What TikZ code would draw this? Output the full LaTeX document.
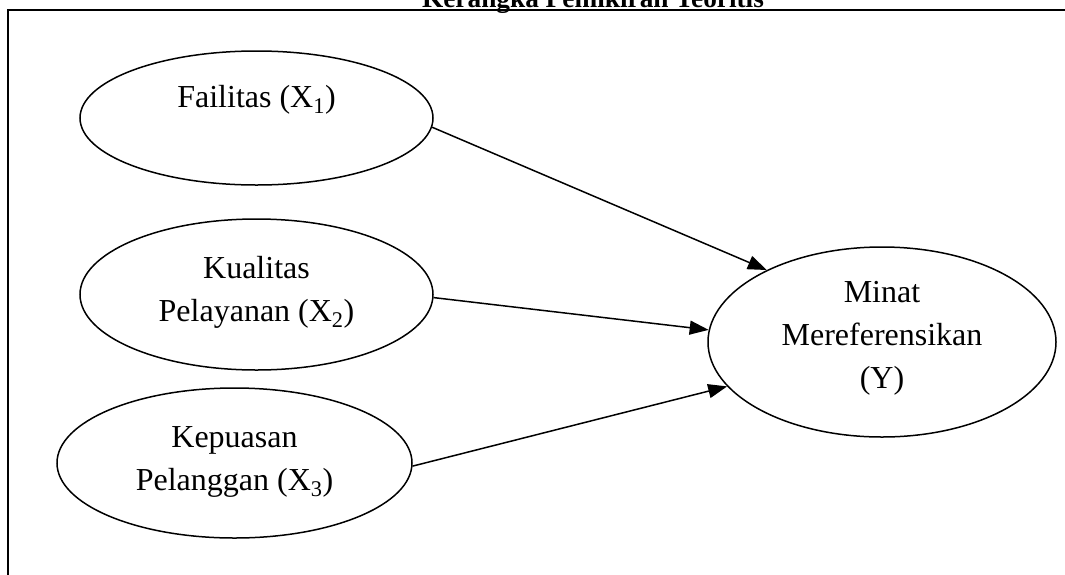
\documentclass[tikz,border=0pt]{standalone}
\usepackage{fontspec}
\setmainfont{Liberation Serif}
\usetikzlibrary{shapes.geometric,arrows.meta}
\begin{document}
\begin{tikzpicture}[x=1pt,y=-1pt,
  oval/.style={draw, ellipse, line width=1.5pt, inner sep=0pt},
  lbl/.style={font=\fontsize{32}{43}\selectfont, align=center, inner sep=0pt},
  link/.style={-{Triangle[length=19pt,width=14pt]}, line width=1.5pt},
  frameline/.style={line width=2pt}]
\clip (0,0) rectangle (1065,574);
\useasboundingbox (0,0) rectangle (1065,574);

% title, cut by the top edge of the page
\node[font=\fontsize{27.3}{32}\selectfont\bfseries, anchor=base, inner sep=0pt]
  (title) at (593,7.5) {Kerangka Pemikiran Teoritis};

% open frame: left and top sides
\draw[frameline] (8,580) -- (8,10) -- (1070,10);

% variables
\node[oval, minimum width=353pt, minimum height=134pt] (e1) at (256.5,118) {};
\node[oval, minimum width=353pt, minimum height=151pt] (e2) at (256.5,294.5) {};
\node[oval, minimum width=355pt, minimum height=150pt] (e3) at (234.5,463) {};
\node[oval, minimum width=348pt, minimum height=190pt] (y) at (882,342) {};

\node[lbl] (t1) at (256.5,100) {Failitas (X\textsubscript{1})};
\node[lbl] (t2) at (256.5,292.5) {Kualitas\\Pelayanan (X\textsubscript{2})};
\node[lbl] (t3) at (234.5,461.5) {Kepuasan\\Pelanggan (X\textsubscript{3})};
\node[lbl] (ty) at (882,338.5) {Minat\\Mereferensikan\\(Y)};

% influences
\draw[link] (e1.-3) -- (y.148);
\draw[link] (e2.-1) -- (y.176.4);
\draw[link] (e3.-1) -- (y.196.4);
\end{tikzpicture}
\end{document}
